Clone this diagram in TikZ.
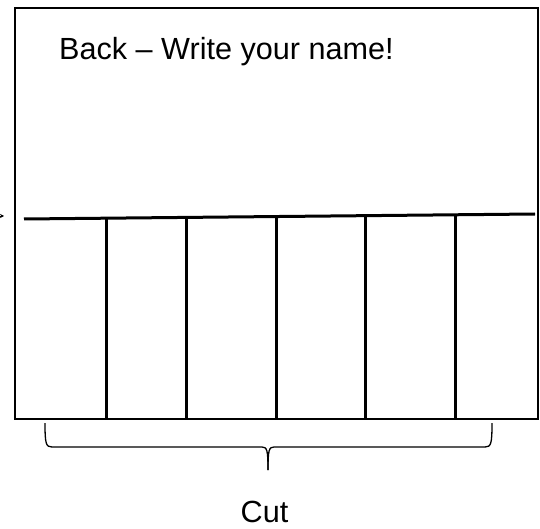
\documentclass[tikz,border=0pt]{standalone}
\usepackage{fontspec}
\setmainfont{Liberation Sans}
\usetikzlibrary{arrows.meta}
\tikzset{
  label text/.style={inner sep=0pt, font=\fontsize{30.6}{36}\selectfont},
  frame line/.style={line width=2pt},
  cut line/.style={line width=3pt},
  brace line/.style={line width=1.3pt}
}
\begin{document}
\begin{tikzpicture}[x=1pt,y=-1pt]
\useasboundingbox (0,0) rectangle (540,529);
% card outline
\draw[frame line] (14.5,8.5) rectangle (537.5,418.5);
% fold line
\coordinate (hl) at (24,219);
\coordinate (hr) at (535,214);
\draw[cut line] (hl) -- (hr);
% cut lines
\foreach \x/\yt in {106/218.2,186/217.4,276/216.5,365/215.6,455/214.7}{
  \draw[cut line] (\x,\yt) -- (\x,418);
}
% small arrow tip at the left margin
\coordinate (at) at (4,216);
\draw[-{Stealth[length=4pt,width=4pt]}, line width=0.6pt] (0,216) -- (at);
% text
\node[label text, anchor=base west] (back) at (59,60) {Back – Write your name!};
\node[label text, anchor=base] (cut) at (264.5,522) {Cut};
% brace
\draw[brace line] (45,423) .. controls (45,444) and (46,447) .. (52,447) -- (262,447)
  .. controls (267,447) and (268,450) .. (268,470);
\draw[brace line] (492,423) .. controls (492,444) and (491,447) .. (485,447) -- (274,447)
  .. controls (269,447) and (268,450) .. (268,470);
\end{tikzpicture}
\end{document}
